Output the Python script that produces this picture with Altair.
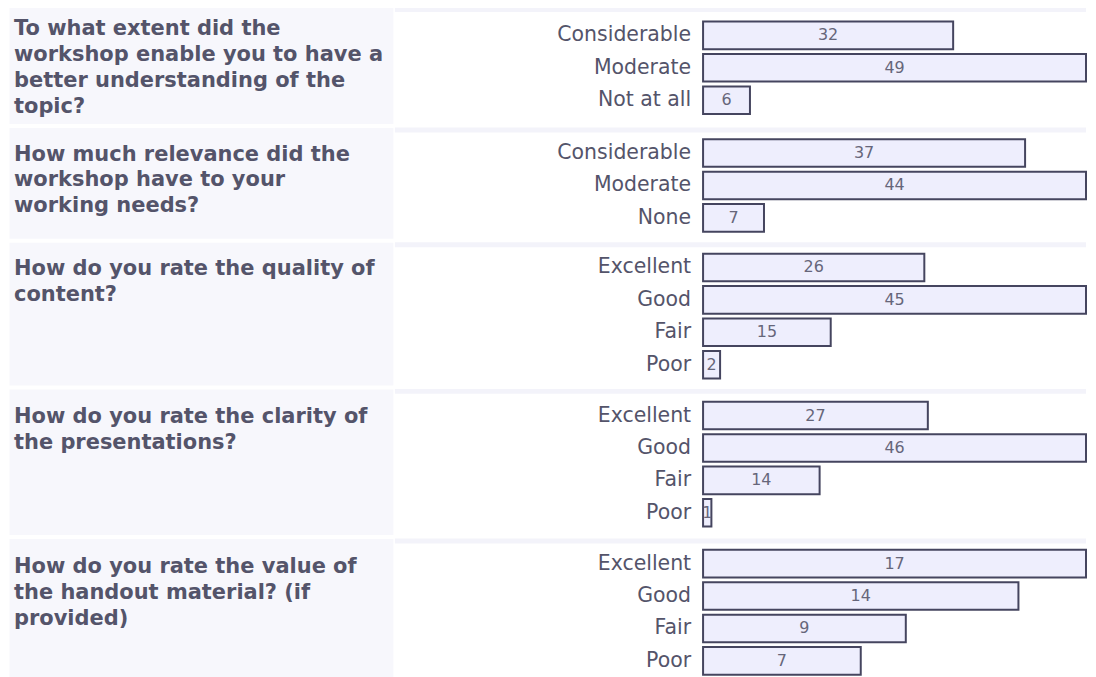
import altair as alt
import pandas as pd

questions = [
    ["To what extent did the", "workshop enable you to have a", "better understanding of the", "topic?"],
    ["How much relevance did the", "workshop have to your", "working needs?"],
    ["How do you rate the quality of", "content?"],
    ["How do you rate the clarity of", "the presentations?"],
    ["How do you rate the value of", "the handout material? (if", "provided)"],
]
categories = [
    ["Considerable", "Moderate", "Not at all"],
    ["Considerable", "Moderate", "None"],
    ["Excellent", "Good", "Fair", "Poor"],
    ["Excellent", "Good", "Fair", "Poor"],
    ["Excellent", "Good", "Fair", "Poor"],
]
counts = [
    [32, 49, 6],
    [37, 44, 7],
    [26, 45, 15, 2],
    [27, 46, 14, 1],
    [17, 14, 9, 7],
]

# layout
content_heights = [112, 106, 138, 141, 138]
text_offsets = [11, 16, 16, 17, 18]
SEP_H = 5
LEFT_W = 385
LABEL_W = 307
BAR_W = 384
GAP = 2
STEP = 32.5
PI = 0.15
FONT = "DejaVu Sans"
TXT = "#54546a"
LEFT_BG = "#f7f7fc"
SEP_BG = "#f3f3fa"
BAR_FILL = "#eeeefd"
BAR_STROKE = "#45455f"


def band(width, x0=0):
    return alt.Chart(pd.DataFrame({"b": [0]})).mark_rect(color=SEP_BG).encode(
        x=alt.value(x0), x2=alt.value(width), y=alt.value(0), y2=alt.value(SEP_H))


def block(i):
    cats = categories[i]
    vals = counts[i]
    n = len(cats)
    H = content_heights[i]
    po = (H / STEP - n + PI) / 2
    df = pd.DataFrame({"cat": cats, "n": vals})
    yenc = alt.Y("cat:N", axis=None,
                 scale=alt.Scale(type="band", domain=cats, range=[SEP_H, SEP_H + H],
                                 paddingInner=PI, paddingOuter=po))
    xscale = alt.Scale(domain=[0, max(vals)], nice=False, zero=True)
    full_h = SEP_H + H

    left = alt.Chart(pd.DataFrame({"q": [i]})).mark_text(
        text=questions[i], align="left", baseline="top", font=FONT,
        fontSize=21, fontWeight="bold", color=TXT, lineHeight=26
    ).encode(x=alt.value(5), y=alt.value(text_offsets[i])).properties(
        width=LEFT_W, height=full_h,
        view=alt.ViewBackground(fill=LEFT_BG, stroke="transparent"))

    lab_text = alt.Chart(df).mark_text(
        align="right", baseline="middle", font=FONT, fontSize=20.5, color=TXT
    ).encode(x=alt.value(LABEL_W - 10), y=yenc, text="cat:N")
    labels = alt.layer(band(LABEL_W), lab_text).properties(
        width=LABEL_W, height=full_h,
        view=alt.ViewBackground(fill="white", stroke="transparent"))

    bars = alt.Chart(df).mark_bar(
        fill=BAR_FILL, stroke=BAR_STROKE, strokeWidth=2
    ).encode(x=alt.X("n:Q", scale=xscale, axis=None), y=yenc)

    nums = alt.Chart(df).transform_calculate(mid="datum.n / 2").mark_text(
        align="center", baseline="middle", font=FONT, fontSize=16, color="#66667a"
    ).encode(x=alt.X("mid:Q", scale=xscale, axis=None), y=yenc, text="n:Q")

    barpanel = alt.layer(band(BAR_W, -GAP), bars, nums).properties(
        width=BAR_W, height=full_h,
        view=alt.ViewBackground(fill="white", stroke="transparent"))

    return [left, labels, barpanel]


panels = []
for i in range(5):
    panels += block(i)

chart = alt.concat(
    *panels, columns=3, spacing={"row": 4, "column": GAP}, bounds="flush"
).properties(
    padding={"left": 0, "top": -3, "right": 0, "bottom": 0}, background="white"
).configure_view(stroke="transparent")

chart.save("out.html", embed_options={"renderer": "svg", "actions": False})
